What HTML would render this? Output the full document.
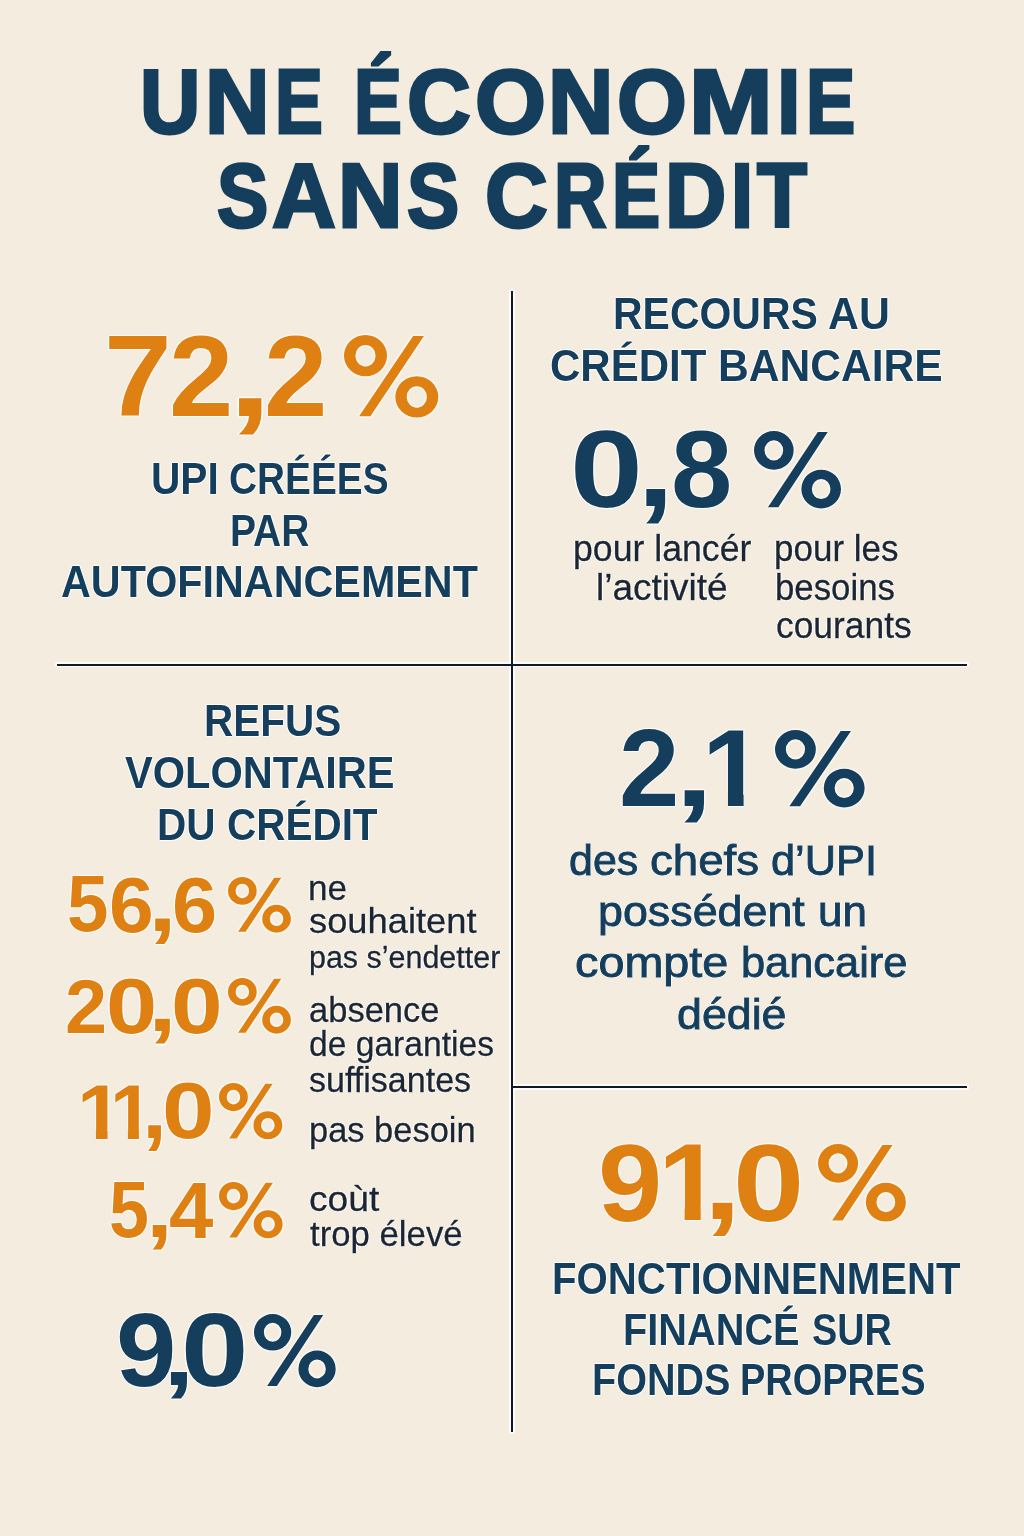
<!DOCTYPE html>
<html lang="fr">
<head>
<meta charset="utf-8">
<title>Une économie sans crédit</title>
<style>
html,body{margin:0;padding:0}
body{width:1024px;height:1536px;background:#f4ecde;position:relative;overflow:hidden;font-family:"Liberation Sans",sans-serif}
.t{position:absolute;white-space:nowrap;line-height:1;transform-origin:0 0;margin:0;text-shadow:1px 0 .6px #fff,-1px 0 .6px #fff,0 1px .6px #fff,0 -1px .6px #fff,0 0 2px #fff}
.one{z-index:-1}
.one::before,.one::after{content:"";position:absolute;top:.722em;height:.17em;background:#f4ecde}
.one::before{left:.03em;width:.202em}
.one::after{left:.372em;width:.19em}
.r{position:absolute;background:#0f1a26}
.h{position:absolute;background:#fff;opacity:.8;border-radius:2px}
.p{position:absolute;overflow:visible;filter:drop-shadow(0 0 1px #fff) drop-shadow(0 0 1px #fff)}
</style>
</head>
<body>
<div class="h" style="left:509.15px;top:289px;width:5.75px;height:1144.7px"></div>
<div class="h" style="left:55.2px;top:661.8px;width:913.4px;height:5.55px"></div>
<div class="h" style="left:510.2px;top:1084.05px;width:458.6px;height:5.85px"></div>
<div class="r" style="left:510.95px;top:290.8px;width:2.15px;height:1141.1px"></div>
<div class="r" style="left:57px;top:663.6px;width:909.8px;height:1.95px"></div>
<div class="r" style="left:512px;top:1085.85px;width:455px;height:2.25px"></div>
<div class="t" style="left:140.26px;top:56.85px;font-size:90.12px;font-weight:bold;color:#143e5c;transform:scaleX(0.9267);-webkit-text-stroke:3px #143e5c">U</div>
<div class="t" style="left:205.04px;top:56.85px;font-size:90.12px;font-weight:bold;color:#143e5c;transform:scaleX(0.9912);-webkit-text-stroke:3px #143e5c">N</div>
<div class="t" style="left:274.92px;top:56.85px;font-size:90.12px;font-weight:bold;color:#143e5c;transform:scaleX(0.7963);-webkit-text-stroke:3px #143e5c">E</div>
<div class="t" style="left:353.81px;top:56.85px;font-size:90.12px;font-weight:bold;color:#143e5c;transform:scaleX(0.7963);-webkit-text-stroke:3px #143e5c">É</div>
<div class="t" style="left:406.55px;top:56.85px;font-size:90.12px;font-weight:bold;color:#143e5c;transform:scaleX(0.9798);-webkit-text-stroke:3px #143e5c">C</div>
<div class="t" style="left:474.98px;top:56.85px;font-size:90.12px;font-weight:bold;color:#143e5c;transform:scaleX(1.0114);-webkit-text-stroke:3px #143e5c">O</div>
<div class="t" style="left:547.98px;top:56.85px;font-size:90.12px;font-weight:bold;color:#143e5c;transform:scaleX(1.0045);-webkit-text-stroke:3px #143e5c">N</div>
<div class="t" style="left:616.51px;top:56.85px;font-size:90.12px;font-weight:bold;color:#143e5c;transform:scaleX(0.9962);-webkit-text-stroke:3px #143e5c">O</div>
<div class="t" style="left:689.49px;top:56.85px;font-size:90.12px;font-weight:bold;color:#143e5c;transform:scaleX(1.1136);-webkit-text-stroke:3px #143e5c">M</div>
<div class="t" style="left:776.80px;top:56.85px;font-size:90.12px;font-weight:bold;color:#143e5c;transform:scaleX(0.9375);-webkit-text-stroke:3px #143e5c">I</div>
<div class="t" style="left:805.81px;top:56.85px;font-size:90.12px;font-weight:bold;color:#143e5c;transform:scaleX(0.8194);-webkit-text-stroke:3px #143e5c">E</div>
<div class="t" style="left:217.07px;top:151.10px;font-size:90.12px;font-weight:bold;color:#143e5c;transform:scaleX(0.8534);-webkit-text-stroke:3px #143e5c">S</div>
<div class="t" style="left:271.50px;top:151.10px;font-size:90.12px;font-weight:bold;color:#143e5c;transform:scaleX(0.9808);-webkit-text-stroke:3px #143e5c">A</div>
<div class="t" style="left:338.04px;top:151.10px;font-size:90.12px;font-weight:bold;color:#143e5c;transform:scaleX(0.9911);-webkit-text-stroke:3px #143e5c">N</div>
<div class="t" style="left:407.13px;top:151.10px;font-size:90.12px;font-weight:bold;color:#143e5c;transform:scaleX(0.8684);-webkit-text-stroke:3px #143e5c">S</div>
<div class="t" style="left:484.56px;top:151.10px;font-size:90.12px;font-weight:bold;color:#143e5c;transform:scaleX(0.9643);-webkit-text-stroke:3px #143e5c">C</div>
<div class="t" style="left:553.77px;top:151.10px;font-size:90.12px;font-weight:bold;color:#143e5c;transform:scaleX(0.8065);-webkit-text-stroke:3px #143e5c">R</div>
<div class="t" style="left:611.90px;top:151.10px;font-size:90.12px;font-weight:bold;color:#143e5c;transform:scaleX(0.8009);-webkit-text-stroke:3px #143e5c">É</div>
<div class="t" style="left:665.27px;top:151.10px;font-size:90.12px;font-weight:bold;color:#143e5c;transform:scaleX(0.9407);-webkit-text-stroke:3px #143e5c">D</div>
<div class="t" style="left:731.47px;top:151.10px;font-size:90.12px;font-weight:bold;color:#143e5c;transform:scaleX(0.8824);-webkit-text-stroke:3px #143e5c">I</div>
<div class="t" style="left:757.38px;top:151.10px;font-size:90.12px;font-weight:bold;color:#143e5c;transform:scaleX(0.9079);-webkit-text-stroke:3px #143e5c">T</div>
<div class="t" style="left:151.33px;top:457.86px;font-size:43.6px;font-weight:bold;color:#143e5c;transform:scaleX(0.9324)">UPI</div>
<div class="t" style="left:229.35px;top:457.86px;font-size:43.6px;font-weight:bold;color:#143e5c;transform:scaleX(0.8898)">CRÉÉES</div>
<div class="t" style="left:230.13px;top:509.96px;font-size:43.6px;font-weight:bold;color:#143e5c;transform:scaleX(0.8941)">PAR</div>
<div class="t" style="left:61.05px;top:560.96px;font-size:43.6px;font-weight:bold;color:#143e5c;transform:scaleX(0.9476)">AUTOFINANCEMENT</div>
<div class="t" style="left:612.57px;top:292.61px;font-size:43.6px;font-weight:bold;color:#143e5c;transform:scaleX(0.9397)">RECOURS</div>
<div class="t" style="left:828.23px;top:292.61px;font-size:43.6px;font-weight:bold;color:#143e5c;transform:scaleX(0.9814)">AU</div>
<div class="t" style="left:549.86px;top:345.41px;font-size:43.6px;font-weight:bold;color:#143e5c;transform:scaleX(0.9634)">CRÉDIT</div>
<div class="t" style="left:718.07px;top:345.41px;font-size:43.6px;font-weight:bold;color:#143e5c;transform:scaleX(0.9761)">BANCAIRE</div>
<div class="t" style="left:203.76px;top:699.66px;font-size:43.6px;font-weight:bold;color:#143e5c;transform:scaleX(0.9285)">REFUS</div>
<div class="t" style="left:124.83px;top:751.56px;font-size:43.6px;font-weight:bold;color:#143e5c;transform:scaleX(0.9537)">VOLONTAIRE</div>
<div class="t" style="left:156.60px;top:804.26px;font-size:43.6px;font-weight:bold;color:#143e5c;transform:scaleX(0.9293)">DU</div>
<div class="t" style="left:227.49px;top:804.26px;font-size:43.6px;font-weight:bold;color:#143e5c;transform:scaleX(0.9280)">CRÉDIT</div>
<div class="t" style="left:551.68px;top:1257.81px;font-size:43.6px;font-weight:bold;color:#143e5c;transform:scaleX(0.9221)">FONCTIONNENMENT</div>
<div class="t" style="left:622.60px;top:1309.16px;font-size:43.6px;font-weight:bold;color:#143e5c;transform:scaleX(0.9116)">FINANCÉ</div>
<div class="t" style="left:812.13px;top:1309.16px;font-size:43.6px;font-weight:bold;color:#143e5c;transform:scaleX(0.8667)">SUR</div>
<div class="t" style="left:592.28px;top:1358.56px;font-size:43.6px;font-weight:bold;color:#143e5c;transform:scaleX(0.9074)">FONDS</div>
<div class="t" style="left:739.76px;top:1358.56px;font-size:43.6px;font-weight:bold;color:#143e5c;transform:scaleX(0.8699)">PROPRES</div>
<div class="t" style="left:103.50px;top:317.75px;font-size:115px;font-weight:bold;color:#de8012;transform:scale(1.0593,1.0025)">7</div>
<div class="t" style="left:169.18px;top:319.42px;font-size:115px;font-weight:bold;color:#de8012;transform:scale(1.0055,0.9988)">2</div>
<div class="t" style="left:227.70px;top:315.01px;font-size:115px;font-weight:bold;color:#de8012;transform:scale(1.3765,1.0371)">,</div>
<div class="t" style="left:264.23px;top:319.42px;font-size:115px;font-weight:bold;color:#de8012;transform:scale(0.9911,0.9988)">2</div>
<div class="t" style="left:570.31px;top:415.36px;font-size:109px;font-weight:bold;color:#143e5c;transform:scale(1.2019,1.0026)">0</div>
<div class="t" style="left:637.20px;top:410.64px;font-size:109px;font-weight:bold;color:#143e5c;transform:scale(1.2250,1.0364)">,</div>
<div class="t" style="left:670.56px;top:415.36px;font-size:109px;font-weight:bold;color:#143e5c;transform:scale(1.0111,1.0026)">8</div>
<div class="t" style="left:618.95px;top:714.56px;font-size:107px;font-weight:bold;color:#143e5c;transform:scale(1.0135,1.0160)">2</div>
<div class="t" style="left:674.62px;top:717.74px;font-size:107px;font-weight:bold;color:#143e5c;transform:scale(1.2867,0.9818)">,</div>
<div class="t one" style="left:701.72px;top:714.32px;font-size:107px;font-weight:bold;color:#143e5c;transform:scale(1.0394,1.0176)">1</div>
<div class="t" style="left:598.17px;top:1129.05px;font-size:108px;font-weight:bold;color:#de8012;transform:scale(1.0698,1.0104)">9</div>
<div class="t one" style="left:657.53px;top:1128.17px;font-size:108px;font-weight:bold;color:#de8012;transform:scale(1.0667,1.0135)">1</div>
<div class="t" style="left:702.76px;top:1127.46px;font-size:108px;font-weight:bold;color:#de8012;transform:scale(1.2875,1.0152)">,</div>
<div class="t" style="left:733.47px;top:1127.94px;font-size:108px;font-weight:bold;color:#de8012;transform:scale(1.1865,1.0169)">0</div>
<div class="t" style="left:66.50px;top:864.15px;font-size:78px;font-weight:bold;color:#de8012;transform:scale(0.9564,1.0185)">5</div>
<div class="t" style="left:109.11px;top:866.06px;font-size:78px;font-weight:bold;color:#de8012;transform:scale(1.0316,0.9946)">6</div>
<div class="t" style="left:148.20px;top:859.78px;font-size:78px;font-weight:bold;color:#de8012;transform:scale(1.3273,1.0750)">,</div>
<div class="t" style="left:171.89px;top:866.06px;font-size:78px;font-weight:bold;color:#de8012;transform:scale(1.0421,0.9946)">6</div>
<div class="t" style="left:64.68px;top:968.00px;font-size:78px;font-weight:bold;color:#de8012;transform:scale(0.9711,0.9818)">2</div>
<div class="t" style="left:106.03px;top:966.74px;font-size:78px;font-weight:bold;color:#de8012;transform:scale(1.1784,1.0055)">0</div>
<div class="t" style="left:148.20px;top:963.36px;font-size:78px;font-weight:bold;color:#de8012;transform:scale(1.3273,1.0375)">,</div>
<div class="t" style="left:171.12px;top:966.74px;font-size:78px;font-weight:bold;color:#de8012;transform:scale(1.1892,1.0055)">0</div>
<div class="t one" style="left:77.30px;top:1072.69px;font-size:78px;font-weight:bold;color:#de8012;transform:scale(1.0522,0.9926)">1</div>
<div class="t one" style="left:110.22px;top:1072.69px;font-size:78px;font-weight:bold;color:#de8012;transform:scale(0.9958,0.9926)">1</div>
<div class="t" style="left:142.46px;top:1065.22px;font-size:78px;font-weight:bold;color:#de8012;transform:scale(1.1500,1.1042)">,</div>
<div class="t" style="left:162.48px;top:1071.44px;font-size:78px;font-weight:bold;color:#de8012;transform:scale(1.2108,1.0127)">0</div>
<div class="t" style="left:109.01px;top:1170.25px;font-size:78px;font-weight:bold;color:#de8012;transform:scale(0.9205,1.0185)">5</div>
<div class="t" style="left:145.70px;top:1168.82px;font-size:78px;font-weight:bold;color:#de8012;transform:scale(1.2364,1.0292)">,</div>
<div class="t" style="left:168.98px;top:1171.35px;font-size:78px;font-weight:bold;color:#de8012;transform:scale(1.0238,1.0120)">4</div>
<div class="t" style="left:116.46px;top:1298.02px;font-size:104px;font-weight:bold;color:#143e5c;transform:scale(1.0431,0.9986)">9</div>
<div class="t" style="left:162.51px;top:1310.96px;font-size:104px;font-weight:bold;color:#143e5c;transform:scale(1.0933,0.8375)">,</div>
<div class="t" style="left:181.42px;top:1298.02px;font-size:104px;font-weight:bold;color:#143e5c;transform:scale(1.1650,0.9986)">0</div>
<div class="t" style="left:573.42px;top:531.23px;font-size:36px;font-weight:normal;color:#1c2632;transform:scaleX(0.9904);-webkit-text-stroke:0.3px #1c2632">pour lancér</div>
<div class="t" style="left:595.96px;top:569.63px;font-size:36px;font-weight:normal;color:#1c2632;transform:scaleX(1.0278);-webkit-text-stroke:0.3px #1c2632">l’activité</div>
<div class="t" style="left:774.06px;top:531.23px;font-size:36px;font-weight:normal;color:#1c2632;transform:scaleX(0.9720);-webkit-text-stroke:0.3px #1c2632">pour les</div>
<div class="t" style="left:775.07px;top:569.63px;font-size:36px;font-weight:normal;color:#1c2632;transform:scaleX(0.9669);-webkit-text-stroke:0.3px #1c2632">besoins</div>
<div class="t" style="left:776.02px;top:608.23px;font-size:36px;font-weight:normal;color:#1c2632;transform:scaleX(0.9824);-webkit-text-stroke:0.3px #1c2632">courants</div>
<div class="t" style="left:569.37px;top:840.06px;font-size:42px;font-weight:normal;color:#143e5c;transform:scaleX(1.0227);-webkit-text-stroke:0.9px #143e5c">des</div>
<div class="t" style="left:650.29px;top:840.06px;font-size:42px;font-weight:normal;color:#143e5c;transform:scaleX(1.0867);-webkit-text-stroke:0.9px #143e5c">chefs</div>
<div class="t" style="left:770.95px;top:840.06px;font-size:42px;font-weight:normal;color:#143e5c;transform:scaleX(1.0327);-webkit-text-stroke:0.9px #143e5c">d’UPI</div>
<div class="t" style="left:598.25px;top:891.06px;font-size:42px;font-weight:normal;color:#143e5c;transform:scaleX(1.0667);-webkit-text-stroke:0.9px #143e5c">possédent</div>
<div class="t" style="left:817.52px;top:891.06px;font-size:42px;font-weight:normal;color:#143e5c;transform:scaleX(1.0465);-webkit-text-stroke:0.9px #143e5c">un</div>
<div class="t" style="left:574.62px;top:942.36px;font-size:42px;font-weight:normal;color:#143e5c;transform:scaleX(1.1133);-webkit-text-stroke:0.9px #143e5c">compte</div>
<div class="t" style="left:740.95px;top:942.36px;font-size:42px;font-weight:normal;color:#143e5c;transform:scaleX(1.0327);-webkit-text-stroke:0.9px #143e5c">bancaire</div>
<div class="t" style="left:676.93px;top:993.86px;font-size:42px;font-weight:normal;color:#143e5c;transform:scaleX(1.0653);-webkit-text-stroke:0.9px #143e5c">dédié</div>
<div class="t" style="left:308.37px;top:870.70px;font-size:34.5px;font-weight:normal;color:#1c2632;transform:scaleX(1.0167);-webkit-text-stroke:0.3px #1c2632">ne</div>
<div class="t" style="left:309.36px;top:904.40px;font-size:34.5px;font-weight:normal;color:#1c2632;transform:scaleX(1.0528);-webkit-text-stroke:0.3px #1c2632">souhaitent</div>
<div class="t" style="left:308.84px;top:942.36px;font-size:31px;font-weight:normal;color:#1c2632;transform:scaleX(0.9824);-webkit-text-stroke:0.3px #1c2632">pas s’endetter</div>
<div class="t" style="left:309.40px;top:992.60px;font-size:34.5px;font-weight:normal;color:#1c2632;transform:scaleX(1.0008);-webkit-text-stroke:0.3px #1c2632">absence</div>
<div class="t" style="left:309.42px;top:1026.50px;font-size:34.5px;font-weight:normal;color:#1c2632;transform:scaleX(0.9739);-webkit-text-stroke:0.3px #1c2632">de garanties</div>
<div class="t" style="left:309.41px;top:1062.60px;font-size:34.5px;font-weight:normal;color:#1c2632;transform:scaleX(0.9865);-webkit-text-stroke:0.3px #1c2632">suffisantes</div>
<div class="t" style="left:308.83px;top:1111.67px;font-size:35px;font-weight:normal;color:#1c2632;transform:scaleX(0.9843);-webkit-text-stroke:0.3px #1c2632">pas besoin</div>
<div class="t" style="left:309.34px;top:1181.50px;font-size:34.5px;font-weight:normal;color:#1c2632;transform:scaleX(1.0769);-webkit-text-stroke:0.3px #1c2632">coùt</div>
<div class="t" style="left:310.40px;top:1216.50px;font-size:34.5px;font-weight:normal;color:#1c2632;transform:scaleX(1.0073);-webkit-text-stroke:0.3px #1c2632">trop élevé</div>
<svg class="p" style="left:343.70px;top:335.00px;width:94.30px;height:82.60px" viewBox="0 0 100 100" preserveAspectRatio="none" role="img" aria-label="%"><title>%</title><path fill="#de8012" fill-rule="evenodd" d="M0 25a22.8 25 0 1 0 45.6 0a22.8 25 0 1 0 -45.6 0zM12.1 25a10.7 13 0 1 0 21.4 0a10.7 13 0 1 0 -21.4 0zM54.4 75a22.8 25 0 1 0 45.6 0a22.8 25 0 1 0 -45.6 0zM66.5 75a10.7 13 0 1 0 21.4 0a10.7 13 0 1 0 -21.4 0zM73.3 1.3H84.8L28 98.5H16z"/></svg>
<svg class="p" style="left:753.80px;top:431.10px;width:87.00px;height:77.40px" viewBox="0 0 100 100" preserveAspectRatio="none" role="img" aria-label="%"><title>%</title><path fill="#143e5c" fill-rule="evenodd" d="M0 25a22.8 25 0 1 0 45.6 0a22.8 25 0 1 0 -45.6 0zM12.1 25a10.7 13 0 1 0 21.4 0a10.7 13 0 1 0 -21.4 0zM54.4 75a22.8 25 0 1 0 45.6 0a22.8 25 0 1 0 -45.6 0zM66.5 75a10.7 13 0 1 0 21.4 0a10.7 13 0 1 0 -21.4 0zM73.3 1.3H84.8L28 98.5H16z"/></svg>
<svg class="p" style="left:774.65px;top:729.70px;width:89.65px;height:77.40px" viewBox="0 0 100 100" preserveAspectRatio="none" role="img" aria-label="%"><title>%</title><path fill="#143e5c" fill-rule="evenodd" d="M0 25a22.8 25 0 1 0 45.6 0a22.8 25 0 1 0 -45.6 0zM12.1 25a10.7 13 0 1 0 21.4 0a10.7 13 0 1 0 -21.4 0zM54.4 75a22.8 25 0 1 0 45.6 0a22.8 25 0 1 0 -45.6 0zM66.5 75a10.7 13 0 1 0 21.4 0a10.7 13 0 1 0 -21.4 0zM73.3 1.3H84.8L28 98.5H16z"/></svg>
<svg class="p" style="left:817.90px;top:1143.70px;width:87.90px;height:77.60px" viewBox="0 0 100 100" preserveAspectRatio="none" role="img" aria-label="%"><title>%</title><path fill="#de8012" fill-rule="evenodd" d="M0 25a22.8 25 0 1 0 45.6 0a22.8 25 0 1 0 -45.6 0zM12.1 25a10.7 13 0 1 0 21.4 0a10.7 13 0 1 0 -21.4 0zM54.4 75a22.8 25 0 1 0 45.6 0a22.8 25 0 1 0 -45.6 0zM66.5 75a10.7 13 0 1 0 21.4 0a10.7 13 0 1 0 -21.4 0zM73.3 1.3H84.8L28 98.5H16z"/></svg>
<svg class="p" style="left:227.70px;top:876.70px;width:62.90px;height:55.70px" viewBox="0 0 100 100" preserveAspectRatio="none" role="img" aria-label="%"><title>%</title><path fill="#de8012" fill-rule="evenodd" d="M0 25a22.8 25 0 1 0 45.6 0a22.8 25 0 1 0 -45.6 0zM12.1 25a10.7 13 0 1 0 21.4 0a10.7 13 0 1 0 -21.4 0zM54.4 75a22.8 25 0 1 0 45.6 0a22.8 25 0 1 0 -45.6 0zM66.5 75a10.7 13 0 1 0 21.4 0a10.7 13 0 1 0 -21.4 0zM73.3 1.3H84.8L28 98.5H16z"/></svg>
<svg class="p" style="left:227.70px;top:978.10px;width:62.90px;height:55.70px" viewBox="0 0 100 100" preserveAspectRatio="none" role="img" aria-label="%"><title>%</title><path fill="#de8012" fill-rule="evenodd" d="M0 25a22.8 25 0 1 0 45.6 0a22.8 25 0 1 0 -45.6 0zM12.1 25a10.7 13 0 1 0 21.4 0a10.7 13 0 1 0 -21.4 0zM54.4 75a22.8 25 0 1 0 45.6 0a22.8 25 0 1 0 -45.6 0zM66.5 75a10.7 13 0 1 0 21.4 0a10.7 13 0 1 0 -21.4 0zM73.3 1.3H84.8L28 98.5H16z"/></svg>
<svg class="p" style="left:219.30px;top:1083.10px;width:63.30px;height:56.30px" viewBox="0 0 100 100" preserveAspectRatio="none" role="img" aria-label="%"><title>%</title><path fill="#de8012" fill-rule="evenodd" d="M0 25a22.8 25 0 1 0 45.6 0a22.8 25 0 1 0 -45.6 0zM12.1 25a10.7 13 0 1 0 21.4 0a10.7 13 0 1 0 -21.4 0zM54.4 75a22.8 25 0 1 0 45.6 0a22.8 25 0 1 0 -45.6 0zM66.5 75a10.7 13 0 1 0 21.4 0a10.7 13 0 1 0 -21.4 0zM73.3 1.3H84.8L28 98.5H16z"/></svg>
<svg class="p" style="left:219.30px;top:1181.90px;width:63.60px;height:56.30px" viewBox="0 0 100 100" preserveAspectRatio="none" role="img" aria-label="%"><title>%</title><path fill="#de8012" fill-rule="evenodd" d="M0 25a22.8 25 0 1 0 45.6 0a22.8 25 0 1 0 -45.6 0zM12.1 25a10.7 13 0 1 0 21.4 0a10.7 13 0 1 0 -21.4 0zM54.4 75a22.8 25 0 1 0 45.6 0a22.8 25 0 1 0 -45.6 0zM66.5 75a10.7 13 0 1 0 21.4 0a10.7 13 0 1 0 -21.4 0zM73.3 1.3H84.8L28 98.5H16z"/></svg>
<svg class="p" style="left:253.80px;top:1313.50px;width:81.70px;height:73.20px" viewBox="0 0 100 100" preserveAspectRatio="none" role="img" aria-label="%"><title>%</title><path fill="#143e5c" fill-rule="evenodd" d="M0 25a22.8 25 0 1 0 45.6 0a22.8 25 0 1 0 -45.6 0zM12.1 25a10.7 13 0 1 0 21.4 0a10.7 13 0 1 0 -21.4 0zM54.4 75a22.8 25 0 1 0 45.6 0a22.8 25 0 1 0 -45.6 0zM66.5 75a10.7 13 0 1 0 21.4 0a10.7 13 0 1 0 -21.4 0zM73.3 1.3H84.8L28 98.5H16z"/></svg>
</body>
</html>
